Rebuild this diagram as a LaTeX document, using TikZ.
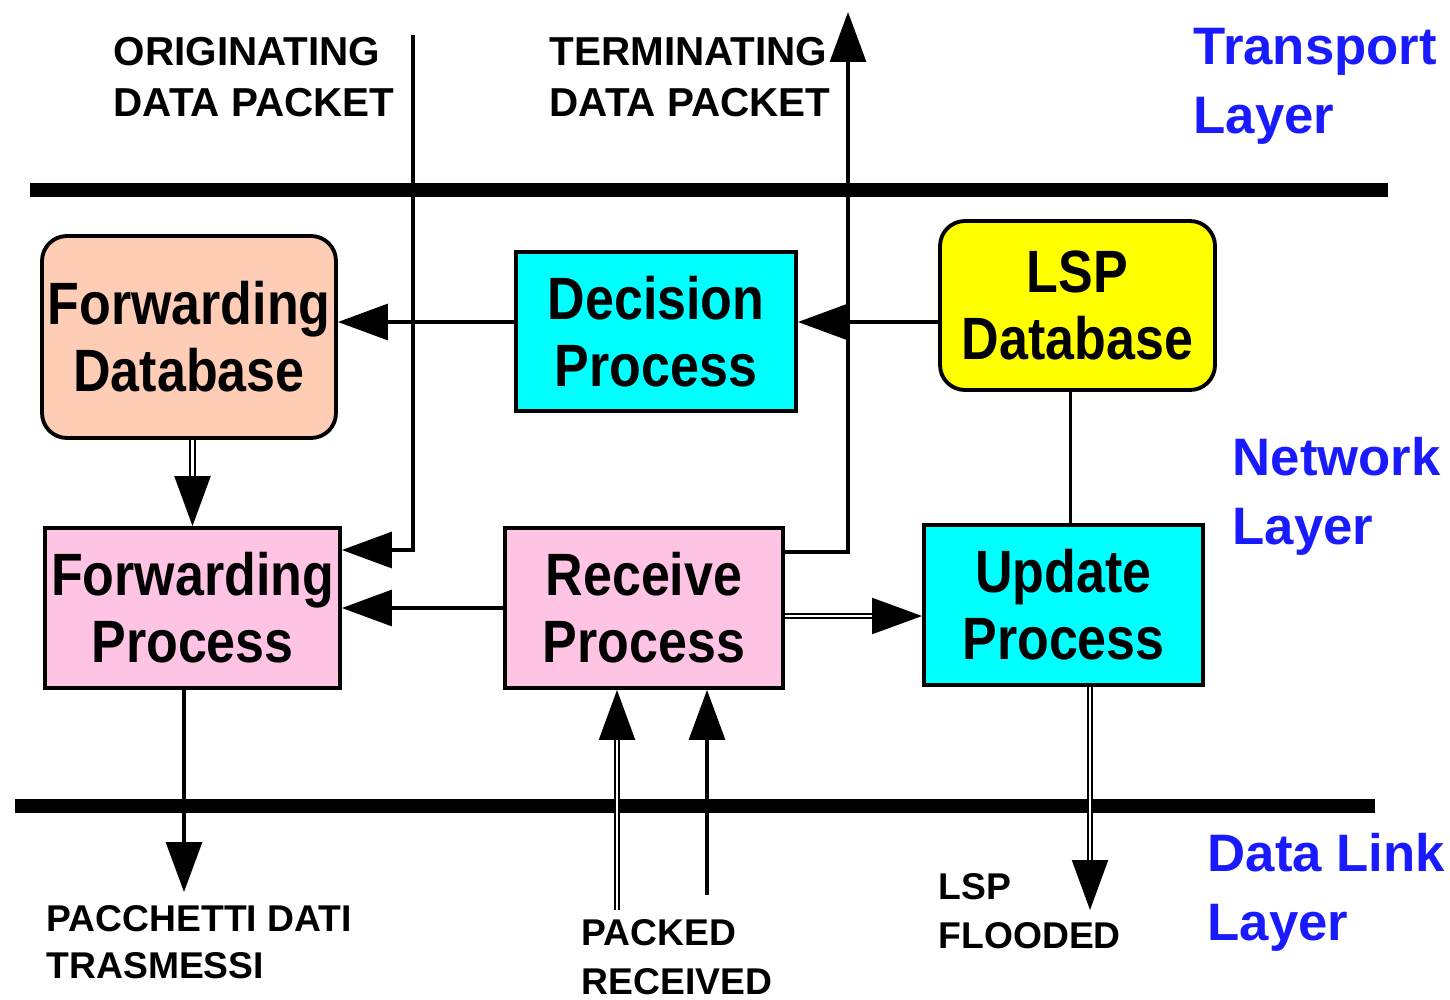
\documentclass[tikz,border=0pt]{standalone}
\usepackage{fontspec}
\setmainfont{Liberation Sans}
\newfontfamily\boxfont{Liberation Sans}[FakeStretch=0.87]
\usetikzlibrary{arrows.meta}
\definecolor{fdbpeach}{RGB}{255,204,182}
\definecolor{procpink}{RGB}{255,196,228}
\definecolor{proccyan}{RGB}{0,255,255}
\definecolor{dbyellow}{RGB}{255,255,0}
\definecolor{layerblue}{RGB}{26,26,255}

\begin{document}
\begin{tikzpicture}[
  procbox/.style={draw, line width=1.1pt, inner sep=0pt, align=center,
    font=\boxfont\bfseries\fontsize{17}{19}\selectfont},
  dbbox/.style={procbox, rounded corners=0.25cm},
  bar/.style={line width=4pt},
  link/.style={line width=0.9pt},
  arr/.style={link, -{Triangle[length=0.5cm, width=0.36cm]}},
  dblarr/.style={arr, double, line width=0.6pt, double distance=0.7pt},
  caption/.style={anchor=north west, inner sep=0pt, align=left,
    font=\bfseries\fontsize{10.6}{13.8}\selectfont},
  layer/.style={caption, text=layerblue, font=\bfseries\fontsize{15}{19.6}\selectfont}
]
  \useasboundingbox (0,0) rectangle (14.5,-9.99);

  % layer borders
  \draw[bar] (0.30,-1.90) -- (13.88,-1.90);
  \draw[bar] (0.15,-8.06) -- (13.75,-8.06);

  % network layer boxes
  \node (fdb) at (1.89,-3.37) [dbbox, fill=fdbpeach, minimum width=2.94cm, minimum height=2.02cm] {Forwarding\\Database};
  \node (dec) at (6.56,-3.315) [procbox, fill=proccyan, minimum width=2.80cm, minimum height=1.59cm] {Decision\\Process};
  \node (lsp) at (10.775,-3.055) [dbbox, fill=dbyellow, minimum width=2.75cm, minimum height=1.69cm] {LSP\\Database};
  \node (fproc) at (1.925,-6.08) [procbox, fill=procpink, minimum width=2.95cm, minimum height=1.60cm] {Forwarding\\Process};
  \node (recv) at (6.44,-6.08) [procbox, fill=procpink, minimum width=2.78cm, minimum height=1.60cm] {Receive\\Process};
  \node (upd) at (10.635,-6.05) [procbox, fill=proccyan, minimum width=2.79cm, minimum height=1.60cm] {Update\\Process};

  % texts
  \node (origtxt) at (1.13,-0.37) [caption, font=\bfseries\fontsize{11.5}{14.5}\selectfont] {ORIGINATING\\DATA PACKET};
  \node (termtxt) at (5.49,-0.37) [caption, font=\bfseries\fontsize{11.5}{14.5}\selectfont] {TERMINATING\\DATA PACKET};
  \node (sendtxt) at (0.46,-9.05) [caption, font=\bfseries\fontsize{10.6}{13.4}\selectfont] {PACCHETTI DATI\\TRASMESSI};
  \node (pktxt) at (5.81,-9.19) [caption] {PACKED\\RECEIVED};
  \node (floodtxt) at (9.38,-8.73) [caption] {LSP\\FLOODED};
  \node (transtxt) at (11.93,-0.28) [layer] {Transport\\Layer};
  \node (nettxt) at (12.32,-4.37) [layer] {Network\\Layer};
  \node (linktxt) at (12.07,-8.33) [layer] {Data Link\\Layer};

  % connectors
  \coordinate (origtop) at (4.13,-0.35);
  \coordinate (termtop) at (8.48,-0.12);
  \coordinate (dbrow) at (0,-3.22);
  \coordinate (sentend) at (1.84,-8.92);
  \coordinate (pkdbl) at (6.17,-9.10);
  \coordinate (pksgl) at (7.07,-8.95);
  \coordinate (floodend) at (10.90,-9.10);

  \draw[arr] (origtop) |- ([yshift=0.58cm]fproc.east);
  \draw[arr] ([yshift=0.56cm]recv.east) -| (termtop);
  \draw[arr] (lsp.west |- dbrow) -- (dec.east |- dbrow);
  \draw[arr] (dec.west |- dbrow) -- (fdb.east |- dbrow);
  \draw[dblarr] (fdb.south -| fproc.north) -- (fproc.north);
  \draw[arr] (recv.west) -- (fproc.east);
  \draw[dblarr] ([yshift=-0.08cm]recv.east) -- ([yshift=-0.08cm]upd.west |- recv.east);
  \draw[link] ([xshift=0.07cm]lsp.south -| upd.north) -- ([xshift=0.07cm]upd.north);
  \draw[arr] (fproc.south -| sentend) -- (sentend);
  \draw[dblarr] (pkdbl) -- (recv.south -| pkdbl);
  \draw[arr] (pksgl) -- (recv.south -| pksgl);
  \draw[dblarr] (upd.south -| floodend) -- (floodend);
\end{tikzpicture}
\end{document}
